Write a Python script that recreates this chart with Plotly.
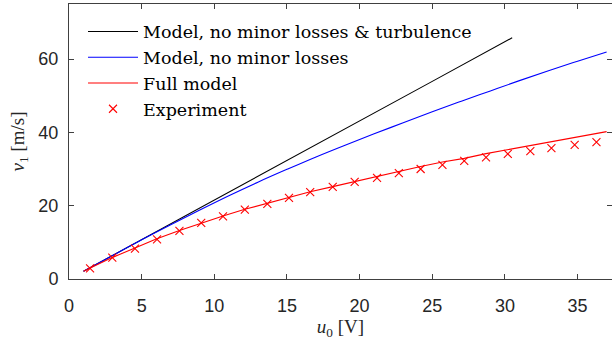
import plotly.graph_objects as go

# --- data ---
u_black = [1.0, 5.0, 10.0, 15.0, 20.0, 25.0, 30.5]
v_black = [2.1, 10.7, 21.5, 32.3, 43.1, 53.9, 65.8]

u_blue = [1.0, 3.0, 5.0, 7.0, 9.0, 11.0, 13.0, 15.0, 17.0, 19.0, 21.0, 23.0, 25.0,
          27.0, 29.0, 31.0, 33.0, 35.0, 37.0]
v_blue = [2.1, 6.4, 10.7, 14.8, 18.8, 22.7, 26.4, 29.9, 33.3, 36.5, 39.6, 42.6, 45.6,
          48.5, 51.3, 54.1, 56.8, 59.4, 61.9]

u_red = [1.0, 1.45, 3.0, 4.5, 6.0, 7.6, 9.1, 10.6, 12.1, 13.65, 15.1, 16.6, 18.15,
         19.65, 21.2, 22.7, 24.2, 25.7, 27.2, 28.7, 30.2, 31.75, 33.2, 34.8, 36.3, 36.7, 37.0]
v_red = [2.1, 3.0, 5.9, 8.4, 10.9, 13.2, 15.3, 17.2, 19.0, 20.7, 22.2, 23.8, 25.2,
         26.6, 28.1, 29.5, 30.7, 31.9, 32.9, 34.2, 35.3, 36.4, 37.5, 38.7, 39.7, 40.1, 40.2]

u_exp = [1.45, 2.98, 4.54, 6.06, 7.6, 9.1, 10.6, 12.1, 13.65, 15.14, 16.6, 18.15, 19.66,
         21.2, 22.7, 24.2, 25.7, 27.2, 28.7, 30.2, 31.75, 33.2, 34.8, 36.3]
v_exp = [2.9, 5.8, 8.3, 10.8, 13.1, 15.3, 17.1, 18.9, 20.5, 22.1, 23.7, 25.1, 26.5,
         27.6, 28.9, 30.0, 31.1, 32.2, 33.2, 34.1, 34.9, 35.7, 36.6, 37.3]

x_ticks = [0, 5, 10, 15, 20, 25, 30, 35]
y_ticks = [0, 20, 40, 60]

fig = go.Figure()
fig.add_trace(go.Scatter(x=u_black, y=v_black, mode="lines",
                         line=dict(color="#000000", width=1.1),
                         name="Model, no minor losses &amp; turbulence"))
fig.add_trace(go.Scatter(x=u_blue, y=v_blue, mode="lines", line_shape="spline",
                         line=dict(color="#0000ff", width=1.1),
                         name="Model, no minor losses"))
fig.add_trace(go.Scatter(x=u_red, y=v_red, mode="lines",
                         line=dict(color="#ff0000", width=1.1),
                         name="Full model"))
fig.add_trace(go.Scatter(x=u_exp, y=v_exp, mode="markers",
                         marker=dict(symbol="x-thin-open", size=8, color="#ff0000",
                                     line=dict(color="#ff0000", width=1.1)),
                         name="Experiment"))

axis_common = dict(
    showgrid=False, zeroline=False, showline=True, linecolor="#404040", linewidth=1,
    mirror="ticks", ticks="inside", ticklen=5, tickcolor="#404040", tickwidth=1,
    tickfont=dict(family="Liberation Sans, Arial, sans-serif", size=18, color="#262626"),
)

fig.update_xaxes(range=[0, 37.37], tickvals=x_ticks, ticklabelstandoff=10,
                 title=dict(text="<i>u</i><sub>0</sub> [V]", standoff=4,
                            font=dict(family="Liberation Serif, serif", size=19, color="#262626")),
                 **axis_common)
fig.update_yaxes(range=[0, 75], tickvals=y_ticks, ticklabelstandoff=6,
                 title=dict(text="<i>v</i><sub>1</sub> [m/s]", standoff=8,
                            font=dict(family="Liberation Serif, serif", size=19, color="#262626")),
                 **axis_common)

fig.update_layout(
    width=612, height=343,
    margin=dict(l=69, r=0, t=4, b=64),
    paper_bgcolor="white", plot_bgcolor="white",
    showlegend=True,
    legend=dict(x=0.0258, y=0.965, xanchor="left", yanchor="top",
                bgcolor="rgba(255,255,255,0)", borderwidth=0,
                font=dict(family="DejaVu Serif, serif", size=17.5, color="#000000"),
                itemwidth=50, tracegroupgap=0),
)

fig.write_html("out.html")
